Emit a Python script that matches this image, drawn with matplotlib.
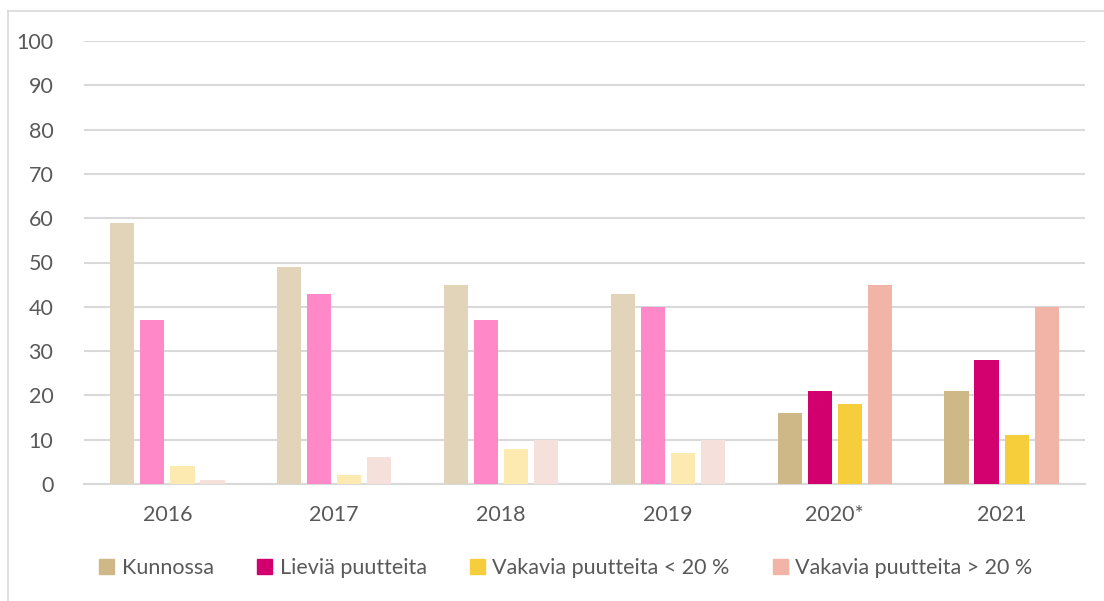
import numpy as np
import matplotlib.pyplot as plt
from matplotlib.lines import Line2D

# データ
vuodet = ["2016", "2017", "2018", "2019", "2020*", "2021"]
sarjat = ["Kunnossa", "Lieviä puutteita", "Vakavia puutteita < 20 %", "Vakavia puutteita > 20 %"]
kunnossa = [59, 49, 45, 43, 16, 21]
lievia = [37, 43, 37, 40, 21, 28]
vakavia_alle = [4, 2, 8, 7, 18, 11]
vakavia_yli = [1, 6, 10, 10, 45, 40]

# värit: täysi (2020-2021) ja vaalea (2016-2019)
varit = ["#CFB887", "#D2006F", "#F6CE3C", "#F1B4A6"]
vaaleat = ["#E1D4B8", "#FF89C8", "#FCEAB1", "#F6E0DC"]

plt.rcParams['font.family'] = ['Lato', 'DejaVu Sans']
teksti = "#595959"
harmaa = "#D9D9D9"

fig = plt.figure(figsize=(11.04, 6.01), dpi=100)
ax = fig.add_axes([84/1104, 1-484/601, (1085-84)/1104, (484-41)/601])

x = np.arange(len(vuodet))
leveys = 0.145
askel = 0.18
data = [kunnossa, lievia, vakavia_alle, vakavia_yli]
for i, arvot in enumerate(data):
    cols = [vaaleat[i] if j < 4 else varit[i] for j in range(len(vuodet))]
    ax.bar(x + (i - 1.5) * askel, arvot, width=leveys, color=cols, zorder=3)

ax.set_xlim(-0.5, len(vuodet) - 0.5)
ax.set_ylim(0, 100)
ax.set_yticks(range(0, 101, 10))
ax.set_xticks(x)
ax.set_xticklabels(vuodet)
ax.yaxis.grid(True, color=harmaa, lw=1.5, zorder=0)
for s in ["top", "right", "left"]:
    ax.spines[s].set_visible(False)
ax.spines["bottom"].set_color(harmaa)
ax.spines["bottom"].set_linewidth(1.5)
ax.tick_params(axis="both", length=0, colors=teksti, labelsize=15.5)
ax.tick_params(axis="y", pad=22)
ax.tick_params(axis="x", pad=15)

kahvat = [plt.Rectangle((0, 0), 1, 1, color=c) for c in varit]
fig.legend(kahvat, sarjat, loc="center", bbox_to_anchor=(566/1104, 1-568/601), ncol=4,
           frameon=False, fontsize=15.5, labelcolor=teksti, handlelength=0.7, handleheight=0.7,
           handletextpad=0.35, columnspacing=2.0)

# kehys
fig.add_artist(Line2D([8/1104, 8/1104], [0, 1-11/601], color=harmaa, lw=1.2))
fig.add_artist(Line2D([8/1104, 1], [1-11/601, 1-11/601], color=harmaa, lw=1.2))

fig.savefig("out.png", dpi=100)
